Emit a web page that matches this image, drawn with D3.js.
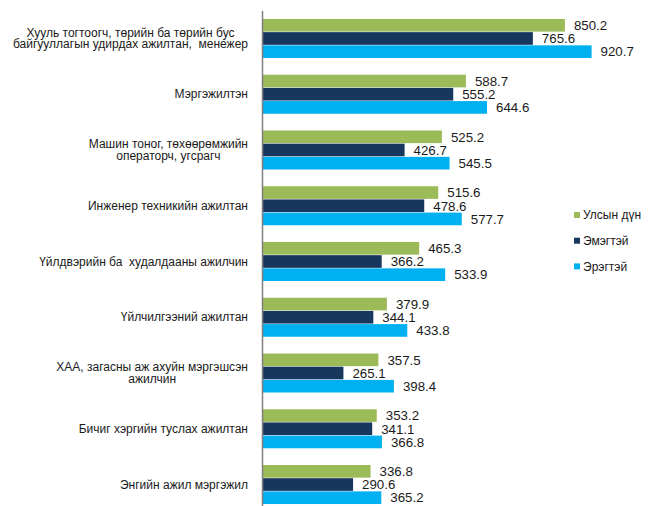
<!DOCTYPE html>
<html>
<head>
<meta charset="utf-8">
<script src="https://cdn.jsdelivr.net/npm/d3@7"></script>
<style>
  body { margin: 0; background: #fff; }
  text { font-family: "Liberation Sans", Arial, sans-serif; white-space: pre; }
</style>
</head>
<body>
<div id="chart"></div>
<script>
// categories, top to bottom (line breaks as in the original labels)
var categories = [
  "Хууль тогтоогч, төрийн ба төрийн бус\nбайгууллагын удирдах ажилтан,  менежер",
  "Мэргэжилтэн",
  "Машин тоног, төхөөрөмжийн\nоператорч, угсрагч",
  "Инженер техникийн ажилтан",
  "Үйлдвэрийн ба  худалдааны ажилчин",
  "Үйлчилгээний ажилтан",
  "ХАА, загасны аж ахуйн мэргэшсэн\nажилчин",
  "Бичиг хэргийн туслах ажилтан",
  "Энгийн ажил мэргэжил"
];
var seriesNames = ["Улсын дүн", "Эмэгтэй", "Эрэгтэй"];
var national = [850.2, 588.7, 525.2, 515.6, 465.3, 379.9, 357.5, 353.2, 336.8];
var female   = [765.6, 555.2, 426.7, 478.6, 366.2, 344.1, 265.1, 341.1, 290.6];
var male     = [920.7, 644.6, 545.5, 577.7, 533.9, 433.8, 398.4, 366.8, 365.2];
var colors = ["#9bbb59", "#17375e", "#00b0f0"];

(function () {
    "use strict";

    var width = 658,
        height = 506,
        axisX = 262, //where the value axis starts
        plotRight = 621.6;

    var seriesValues = [national, female, male];

    var svg = d3.select("#chart").append("svg")
        .attr("width", width)
        .attr("height", height);

    //Scales
    var xScale = d3.scaleLinear()
        .domain([50, 1000])
        .range([axisX, plotRight]);

    var yGroup = d3.scaleBand()
        .domain(d3.range(categories.length))
        .range([10.6, 512.4])
        .paddingInner(0.3)
        .paddingOuter(0.15);

    var ySeries = d3.scaleBand()
        .domain(d3.range(seriesNames.length))
        .range([0, yGroup.bandwidth()])
        .paddingInner(0.04);

    //Bars
    var groups = svg.append("g").attr("class", "bars")
        .selectAll("g")
        .data(categories)
        .join("g")
        .attr("transform", function (d, i) { return "translate(0," + yGroup(i) + ")"; });

    groups.each(function (cat, ci) {
        var g = d3.select(this);
        var rows = seriesValues.map(function (vals, si) {
            return {series: si, value: vals[ci]};
        });

        g.selectAll("rect")
            .data(rows)
            .join("rect")
            .attr("x", axisX)
            .attr("y", function (d) { return ySeries(d.series); })
            .attr("width", function (d) { return xScale(d.value) - axisX; })
            .attr("height", ySeries.bandwidth())
            .attr("fill", function (d) { return colors[d.series]; });

        g.selectAll("text.value")
            .data(rows)
            .join("text")
            .attr("class", "value")
            .attr("x", function (d) { return xScale(d.value) + 9; })
            .attr("y", function (d) { return ySeries(d.series) + ySeries.bandwidth() / 2; })
            .attr("dy", "0.36em")
            .attr("font-size", "13.3px")
            .attr("fill", "#1a1a1a")
            .text(function (d) { return d.value.toFixed(1); });
    });

    //Category axis (line + labels)
    var yAxis = svg.append("g")
        .attr("transform", "translate(" + axisX + ",0)")
        .call(d3.axisLeft(yGroup).tickSize(0).tickSizeOuter(0).tickPadding(14).tickFormat(""));

    yAxis.select(".domain")
        .attr("stroke", "#7f7f7f")
        .attr("stroke-width", 1.5);

    yAxis.selectAll(".tick").each(function (d) {
        var tick = d3.select(this);
        var lines = categories[d].split("\n");
        var label = tick.append("text")
            .attr("fill", "#1a1a1a")
            .attr("font-size", "12px")
            .attr("text-anchor", "middle");
        var lineH = 11.5;
        lines.forEach(function (ln, li) {
            label.append("tspan")
                .attr("x", 0)
                .attr("y", (li - (lines.length - 1) / 2) * lineH)
                .attr("dy", "0.35em")
                .text(ln);
        });
        //right-align the block, centre the lines inside it
        var w = d3.max(label.selectAll("tspan").nodes(), function (n) { return n.getComputedTextLength(); });
        label.selectAll("tspan").attr("x", -14 - w / 2);
    });

    //Legend
    var legend = svg.append("g").attr("class", "legend")
        .attr("transform", "translate(574,215)");

    var items = legend.selectAll("g")
        .data(seriesNames)
        .join("g")
        .attr("transform", function (d, i) { return "translate(0," + (i * 25.7) + ")"; });

    items.append("rect")
        .attr("x", 0)
        .attr("y", -3)
        .attr("width", 6)
        .attr("height", 6)
        .attr("fill", function (d, i) { return colors[i]; });

    items.append("text")
        .attr("x", 9)
        .attr("dy", "0.35em")
        .attr("font-size", "12px")
        .attr("fill", "#1a1a1a")
        .text(function (d) { return d; });
})();
</script>
</body>
</html>
